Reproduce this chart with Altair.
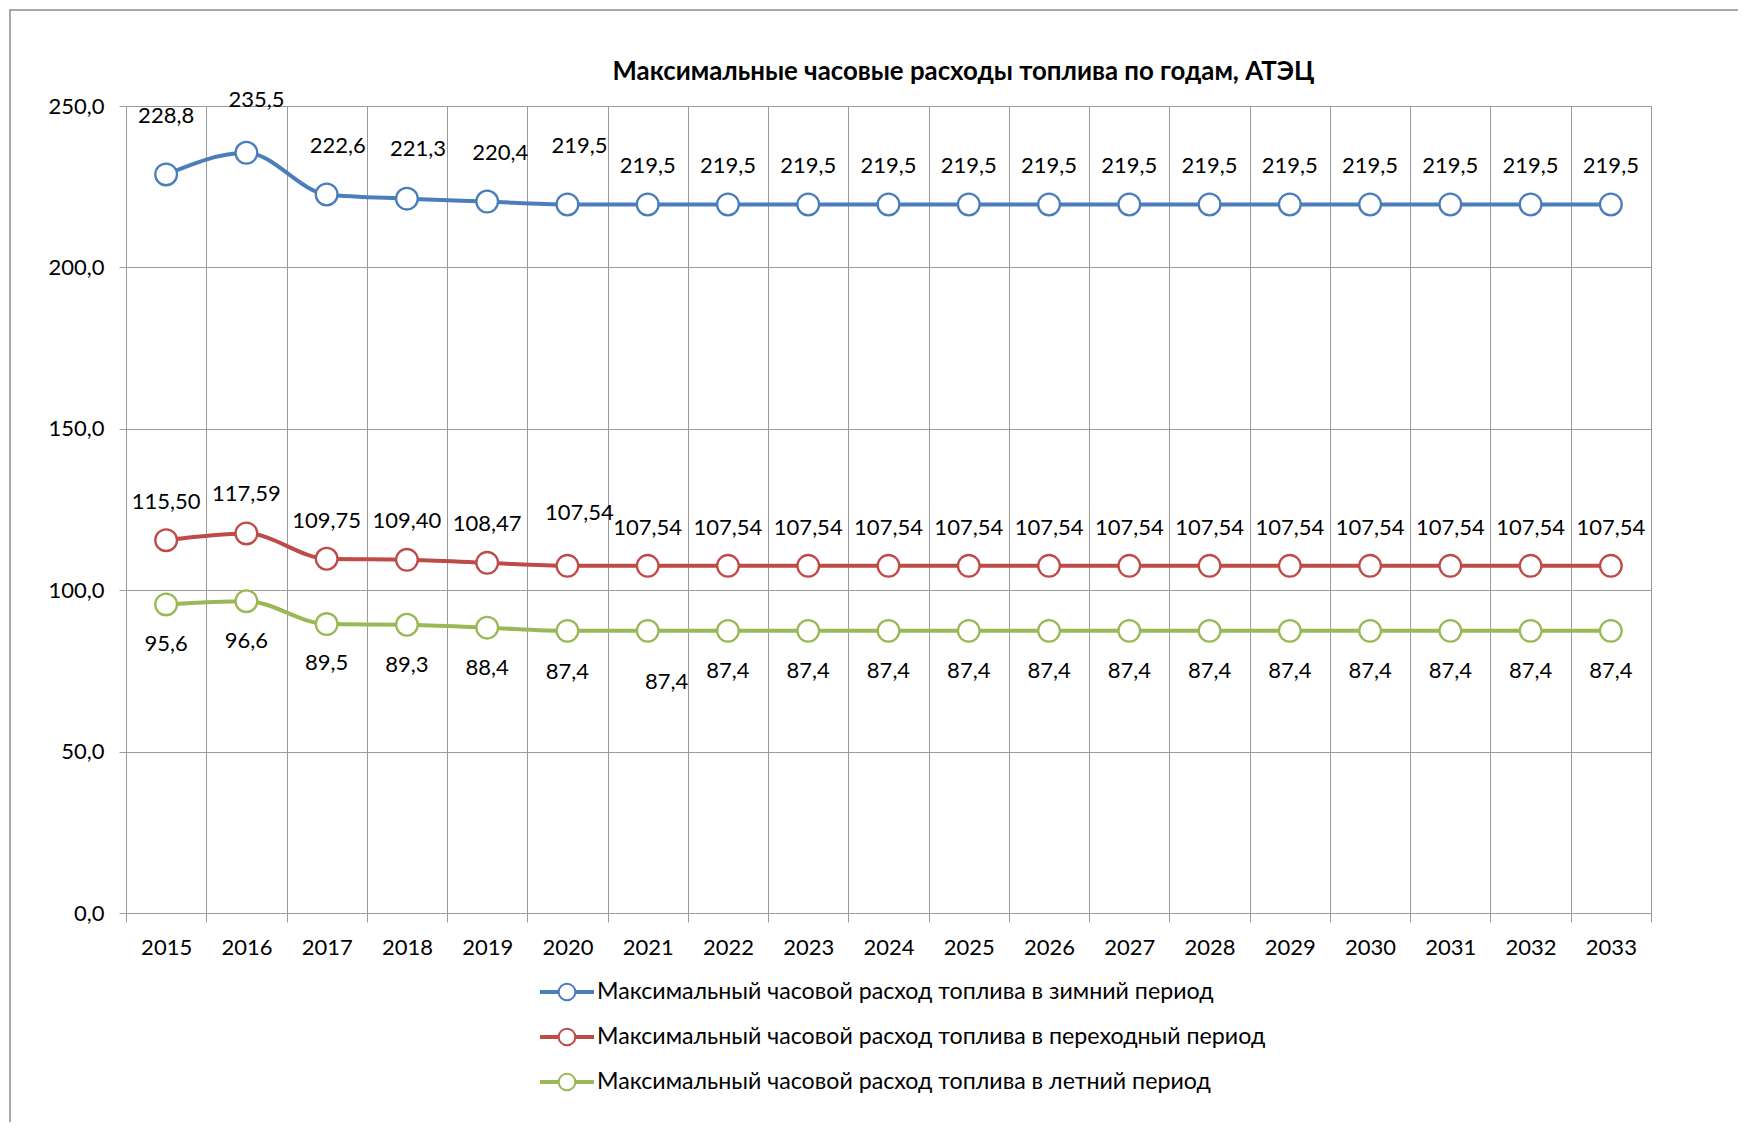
import altair as alt
import pandas as pd

years = [str(y) for y in range(2015, 2034)]
series_names = [
    "Максимальный часовой расход топлива в зимний период",
    "Максимальный часовой расход топлива в переходный период",
    "Максимальный часовой расход топлива в летний период",
]
colors = ["#4A7EBB", "#BE4B48", "#98B954"]

winter = [228.8, 235.5, 222.6, 221.3, 220.4, 219.5, 219.5, 219.5, 219.5, 219.5,
          219.5, 219.5, 219.5, 219.5, 219.5, 219.5, 219.5, 219.5, 219.5]
transition = [115.50, 117.59, 109.75, 109.40, 108.47, 107.54, 107.54, 107.54, 107.54, 107.54,
              107.54, 107.54, 107.54, 107.54, 107.54, 107.54, 107.54, 107.54, 107.54]
summer = [95.6, 96.6, 89.5, 89.3, 88.4, 87.4, 87.4, 87.4, 87.4, 87.4,
          87.4, 87.4, 87.4, 87.4, 87.4, 87.4, 87.4, 87.4, 87.4]
decimals = [1, 2, 1]

# data-label placement (pixel offsets from each point, as moved in the original)
winter_dx = [0, 10, 11, 11, 13, 12, 0, 0, 0, 0, 0, 0, 0, 0, 0, 0, 0, 0, 0]
winter_dy = [-58, -53, -48, -50, -49, -58, -38, -38, -38, -38, -38, -38, -38, -38, -38, -38, -38, -38, -38]
trans_dx = [0, 0, 0, 0, 0, 12, 0, 0, 0, 0, 0, 0, 0, 0, 0, 0, 0, 0, 0]
trans_dy = [-38, -39, -38, -39, -39, -53, -38, -38, -38, -38, -38, -38, -38, -38, -38, -38, -38, -38, -38]
summer_dx = [0, 0, 0, 0, 0, 0, 19, 0, 0, 0, 0, 0, 0, 0, 0, 0, 0, 0, 0]
summer_dy = [40, 40, 39, 40, 40, 41, 51, 40, 40, 40, 40, 40, 40, 40, 40, 40, 40, 40, 40]

rows = []
for name, vals, dec, dxs, dys in zip(series_names, [winter, transition, summer], decimals,
                                     [winter_dx, trans_dx, summer_dx], [winter_dy, trans_dy, summer_dy]):
    for y, v, dx, dy in zip(years, vals, dxs, dys):
        rows.append({"year": y, "series": name, "value": v,
                     "label": f"{v:.{dec}f}".replace(".", ","), "dx": dx, "dy": dy})
df = pd.DataFrame(rows)

FONT = "Lato, Open Sans, sans-serif"
GRID = "#9a9a9a"

# legend glyph: thick line segments with an open circle in the middle
legend_symbol = ("M-1,-0.04L-0.32,-0.04L-0.32,0.04L-1,0.04Z"
                 "M0.32,-0.04L1,-0.04L1,0.04L0.32,0.04Z"
                 "M-0.32,0A0.32,0.32,0,1,1,0.32,0A0.32,0.32,0,1,1,-0.32,0Z")

color = alt.Color(
    "series:N",
    scale=alt.Scale(domain=series_names, range=colors),
    legend=alt.Legend(
        title=None, orient="none", legendX=414, legendY=859, direction="vertical",
        symbolType=legend_symbol, symbolSize=2704, symbolStrokeWidth=2,
        symbolFillColor="white", labelFont=FONT, labelFontSize=23.2, labelColor="black",
        labelOffset=3, rowPadding=5, labelLimit=900,
    ),
)

x = alt.X(
    "year:O", sort=years,
    scale=alt.Scale(type="band", paddingInner=0, paddingOuter=0),
    axis=alt.Axis(title=None, labelAngle=0, tickBand="extent", grid=True, gridColor=GRID,
                  tickColor=GRID, tickSize=9, domainColor=GRID, labelFont=FONT,
                  labelFontSize=22, labelColor="black", labelPadding=15),
)
y = alt.Y(
    "value:Q",
    scale=alt.Scale(domain=[0, 250], nice=False),
    axis=alt.Axis(title=None, values=[0, 50, 100, 150, 200, 250], grid=True, gridColor=GRID,
                  tickColor=GRID, tickSize=7, domainColor=GRID, labelFont=FONT,
                  labelFontSize=22, labelColor="black", labelPadding=15,
                  labelExpr="replace(format(datum.value, '.1f'), '.', ',')"),
)

base = alt.Chart(df).encode(x=x, y=y, color=color)

lines = base.mark_line(interpolate="monotone", strokeWidth=4)
points = base.mark_point(shape="circle", filled=False, fill="white", fillOpacity=1,
                         opacity=1, size=470, strokeWidth=2.3)
labels = base.mark_text(
    font=FONT, fontSize=22, baseline="middle", align="center",
    dx=alt.expr("datum.dx"), dy=alt.expr("datum.dy"),
).encode(text="label:N", color=alt.value("black"))

frame = alt.Chart(pd.DataFrame({"k": [0]})).mark_rect(
    fill=None, stroke="#8a8a8a", strokeWidth=1.5
).encode(x=alt.value(-116), x2=alt.value(1700), y=alt.value(-96), y2=alt.value(1100))

chart = alt.layer(frame, lines, points, labels).properties(
    width=1525, height=807,
    title=alt.Title(
        "Максимальные часовые расходы топлива по годам, АТЭЦ",
        font=FONT, fontSize=25.8, fontWeight="bold", color="black",
        anchor="middle", frame="group", dx=75, offset=-97, baseline="alphabetic",
    ),
    autosize=alt.AutoSizeParams(type="none"),
    padding={"left": 118, "top": 98, "right": 87, "bottom": 209},
).configure_view(stroke=GRID, strokeWidth=1).configure(background="white")

chart.save("out.html", embed_options={"renderer": "svg", "actions": False})
